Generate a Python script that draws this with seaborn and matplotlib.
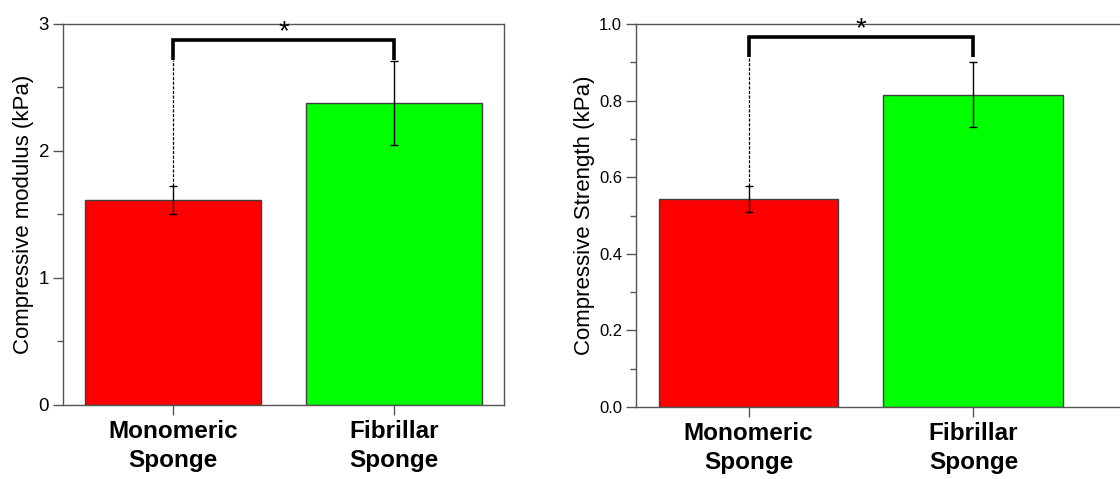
import matplotlib
matplotlib.use("Agg")
import matplotlib.pyplot as plt
import seaborn as sns
import pandas as pd
import numpy as np
from matplotlib.ticker import MultipleLocator

sns.set_style("ticks")
plt.rcParams['font.family'] = ['Liberation Sans', 'DejaVu Sans']
plt.rcParams['text.color'] = 'black'
plt.rcParams['axes.labelcolor'] = 'black'
plt.rcParams['xtick.labelcolor'] = 'black'
plt.rcParams['ytick.labelcolor'] = 'black'

categories = ["Monomeric\nSponge", "Fibrillar\nSponge"]
bar_colors = ["#ff0000", "#00ff00"]

modulus_mean = [1.615, 2.375]
modulus_err = [0.11, 0.33]

strength_mean = [0.543, 0.815]
strength_err = [0.034, 0.085]

# significance brackets: (bracket top, leg bottom, star centre)
modulus_bracket = [2.874, 2.716, 2.96]
strength_bracket = [0.967, 0.915, 0.995]

fig = plt.figure(figsize=(11.2, 4.79), dpi=100)
ax1 = fig.add_axes([0.05625, 0.1545, 0.39375, 0.7954])
ax2 = fig.add_axes([0.5679, 0.1503, 0.441, 0.7996])

spine_color = "#555555"


def draw(ax, means, errs, bracket, ylabel, ylim, major, minor, tick_fs, xlim, fmt):
    df = pd.DataFrame({"cat": categories, "val": means})
    sns.barplot(data=df, x="cat", y="val", hue="cat", palette=bar_colors,
                errorbar=None, width=0.8, edgecolor="#404040", linewidth=1.0,
                legend=False, ax=ax, saturation=1)
    x = np.arange(len(categories))
    ax.errorbar(x, means, yerr=errs, fmt="none", ecolor="black",
                elinewidth=1.0, capsize=3, capthick=1.0, zorder=5)
    top, leg, star = bracket
    ax.plot([x[0], x[0], x[1], x[1]], [leg, top, top, leg], color="black",
            lw=2.6, solid_joinstyle="miter", solid_capstyle="butt", zorder=6)
    ax.plot([x[0], x[0]], [means[0] + errs[0], leg], color="black", lw=0.9,
            ls=(0, (2.5, 1.2)), zorder=6)
    ax.text((x[0] + x[1]) / 2, star, "*", ha="center", va="center_baseline",
            fontsize=20, color="black", clip_on=False)
    ax.set_ylim(*ylim)
    ax.set_xlim(*xlim)
    ax.yaxis.set_major_locator(MultipleLocator(major))
    ax.yaxis.set_minor_locator(MultipleLocator(minor))
    ax.yaxis.set_major_formatter(matplotlib.ticker.FormatStrFormatter(fmt))
    ax.set_xlabel("")
    ax.set_ylabel(ylabel, fontsize=16, labelpad=3, color="black")
    ax.tick_params(axis="y", which="major", direction="out", length=7,
                   width=1, color=spine_color, labelsize=tick_fs, pad=3,
                   labelcolor="black")
    ax.tick_params(axis="y", which="minor", direction="out", length=4,
                   width=1, color=spine_color)
    ax.tick_params(axis="x", which="major", direction="out", length=7,
                   width=1, color=spine_color, pad=4, labelcolor="black")
    for lab in ax.get_xticklabels():
        lab.set_fontweight("bold")
        lab.set_fontsize(17.5)
        lab.set_linespacing(1.3)
        lab.set_color("black")
    for s in ax.spines.values():
        s.set_visible(True)
        s.set_color(spine_color)
        s.set_linewidth(1.0)


draw(ax1, modulus_mean, modulus_err, modulus_bracket,
     "Compressive modulus (kPa)", (0, 3), 1, 0.5, 13.5, (-0.5, 1.5), "%d")
draw(ax2, strength_mean, strength_err, strength_bracket,
     "Compressive Strength (kPa)", (0, 1.0), 0.2, 0.1, 12, (-0.5, 1.696), "%.1f")

fig.savefig("out.png", dpi=100)
